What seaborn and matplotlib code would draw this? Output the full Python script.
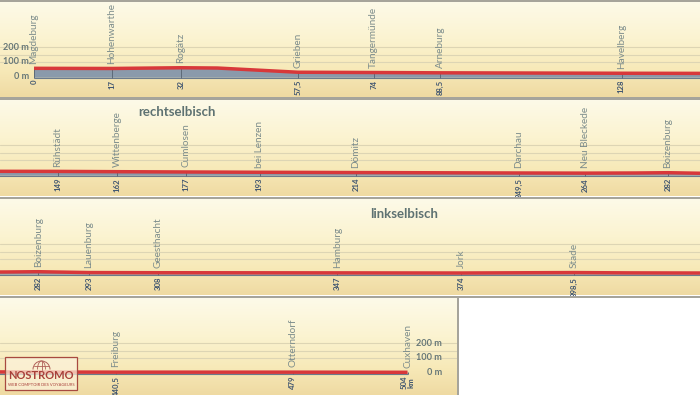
import numpy as np
import pandas as pd
import matplotlib
matplotlib.use("Agg")
import matplotlib.pyplot as plt
import matplotlib.transforms as mtransforms
from matplotlib.patches import Rectangle, Arc
import seaborn as sns

# ---------------- data ----------------
profile_km = [0, 17, 32, 40, 57.5, 74, 88.5, 128, 149, 162, 177, 193, 214,
              249.5, 264, 275, 282, 293, 308, 347, 374, 390, 398.5, 410,
              440.5, 479, 504]
profile_elev = [55, 54, 59, 57, 28, 26, 24, 21, 20, 18, 16, 14, 12,
                9, 8, 9, 11, 5, 4, 3, 2, 4, 5, 3,
                1, 1, 0]

p1_towns = ["Magdeburg", "Hohenwarthe", "Rogätz", "Grieben", "Tangermünde", "Arneburg", "Havelberg"]
p1_km = [0, 17, 32, 57.5, 74, 88.5, 128]
p2_towns = ["Rühstädt", "Wittenberge", "Cumlosen", "bei Lenzen", "Dömitz", "Darchau", "Neu Bleckede", "Boizenburg"]
p2_km = [149, 162, 177, 193, 214, 249.5, 264, 282]
p3_towns = ["Boizenburg", "Lauenburg", "Geesthacht", "Hamburg", "Jork", "Stade"]
p3_km = [282, 293, 308, 347, 374, 398.5]
p4_towns = ["Freiburg", "Otterndorf", "Cuxhaven"]
p4_km = [440.5, 479, 504]

panel_xlim = [(-7.41, 145.1), (136.43, 289.0), (273.67, 425.9), (415.2, 515.0)]
section_titles = ["", "rechtselbisch", "linkselbisch", ""]
ytick_vals = [200, 100, 0]
ytick_labels = ["200 m", "100 m", "0 m"]
grid_vals = [100, 150, 200]

df = pd.DataFrame({"km": profile_km, "elev": profile_elev})

# ---------------- style ----------------
sns.set_theme(style="white")
plt.rcParams["font.family"] = ["Lato", "DejaVu Sans"]

W, H = 700, 395
fig = plt.figure(figsize=(7, 3.95), dpi=100)
fig.patch.set_facecolor("white")

panels_px = [(2, 97.5, 700), (100, 196.5, 700), (199, 295.5, 700), (298, 395, 458)]
zero_from_top = 74.3
px_per_m = 0.145

stops = np.array([
    [0.00, 253, 250, 233],
    [0.40, 251, 243, 208],
    [0.72, 247, 233, 184],
    [1.00, 239, 218, 162],
])
tt = np.linspace(0, 1, 200)
grad = np.stack([np.interp(tt, stops[:, 0], stops[:, i]) for i in (1, 2, 3)], axis=1) / 255
grad_img = grad[:, None, :]

red = "#d8383a"
fill_col = "#8a9aab"
town_col = "#7d8d8c"
km_col = "#3f5570"
ylab_col = "#687878"
sep_col = "#a6a49b"

towns_all = [(p1_towns, p1_km), (p2_towns, p2_km), (p3_towns, p3_km), (p4_towns, p4_km)]
km_min, km_max = min(profile_km), max(profile_km)

axes = []
for i, (top, bot, wpx) in enumerate(panels_px):
    h = bot - top
    ax = fig.add_axes([0, 1 - bot / H, wpx / W, h / H])
    axes.append(ax)
    ax.imshow(grad_img, extent=[0, 1, 0, 1], transform=ax.transAxes,
              aspect="auto", zorder=0, interpolation="bilinear")
    ymax = zero_from_top / px_per_m
    ymin = -(h - zero_from_top) / px_per_m

    for g in grid_vals:
        ax.axhline(g, color="#ddd5b4", lw=0.8, zorder=1)

    ax.fill_between(df["km"], df["elev"], -10, color=fill_col, lw=0, zorder=2)
    ax.hlines(-10, km_min, km_max, color="#6b7b8c", lw=0.8, zorder=2)

    names, kms = towns_all[i]
    elev_at = np.interp(kms, profile_km, profile_elev)
    ax.vlines(kms, -10, elev_at, color="#5d6a78", lw=0.7, zorder=3)

    sns.lineplot(data=df, x="km", y="elev", ax=ax, color=red, lw=2.5,
                 zorder=4, legend=False, solid_capstyle="butt")

    for name, k, e in zip(names, kms, elev_at):
        ax.annotate(name, xy=(k, e), xytext=(0, 3.4), textcoords="offset points",
                    rotation=90, ha="center", va="bottom", fontsize=7.2,
                    color=town_col, zorder=5)
        lab = f"{k:g}".replace(".", ",")
        if k == km_max:
            lab = lab + "\nkm"
        ax.text(k, -25, lab, rotation=90, ha="center", va="top", fontsize=5.6,
                fontweight="bold", color=km_col, zorder=5, multialignment="center",
                linespacing=0.9)

    ax.set_xlim(*panel_xlim[i])
    ax.set_ylim(ymin, ymax)
    ax.set_xlabel("")
    ax.set_ylabel("")
    ax.set_xticks([])
    ax.set_yticks([])
    for s in ax.spines.values():
        s.set_visible(False)

    if section_titles[i]:
        cx = 177 if i == 1 else 404
        cy = 112 if i == 1 else 214
        ax.text(cx / wpx, 1 - (cy - top) / h, section_titles[i], transform=ax.transAxes,
                ha="center", va="center", fontsize=9.5, fontweight="bold",
                color="#5e7272", zorder=6)

trans1 = mtransforms.blended_transform_factory(axes[0].transAxes, axes[0].transData)
for v, lab in zip(ytick_vals, ytick_labels):
    axes[0].text(29 / 700, v, lab, transform=trans1, ha="right", va="center",
                 fontsize=6.6, fontweight="bold", color=ylab_col, zorder=6)
trans4 = mtransforms.blended_transform_factory(axes[3].transAxes, axes[3].transData)
for v, lab in zip(ytick_vals, ytick_labels):
    axes[3].text(442 / 458, v, lab, transform=trans4, ha="right", va="center",
                 fontsize=6.6, fontweight="bold", color=ylab_col, zorder=6)

for (y0, y1, x1) in [(0, 2, 700), (97.5, 100, 700), (196.5, 199, 700), (295.5, 298, 700)]:
    fig.patches.append(Rectangle((0, 1 - y1 / H), x1 / W, (y1 - y0) / H,
                                 transform=fig.transFigure, color=sep_col, lw=0, zorder=10))
fig.patches.append(Rectangle((457 / W, 0), 2 / W, 97 / H, transform=fig.transFigure,
                             color=sep_col, lw=0, zorder=10))

# logo
ax4 = axes[3]
tr = ax4.transAxes
def ap(x, y):
    return (x / 458, 1 - (y - 298) / 97)
bx0, by0 = ap(5, 390)
bx1, by1 = ap(77, 357)
ax4.add_patch(Rectangle((bx0, by0), bx1 - bx0, by1 - by0, transform=tr,
                        facecolor=(0.99, 0.95, 0.86, 0.72), edgecolor="#a84a40",
                        lw=0.9, zorder=7))
pix = mtransforms.Affine2D().scale(1 / W, 1 / H) + fig.transFigure
globe_c = (41.5, 395 - 369.5)
ax4.add_patch(Arc(globe_c, 17, 17, theta1=0, theta2=180, transform=pix,
                  color="#b06058", lw=0.7, zorder=8))
ax4.add_patch(Arc(globe_c, 8, 17, theta1=0, theta2=180, transform=pix,
                  color="#b06058", lw=0.6, zorder=8))
ax4.plot([globe_c[0], globe_c[0]], [globe_c[1], globe_c[1] + 8.5], transform=pix,
         color="#b06058", lw=0.6, zorder=8)
ax4.plot([globe_c[0] - 7.5, globe_c[0] + 7.5], [globe_c[1] + 4, globe_c[1] + 4], transform=pix,
         color="#b06058", lw=0.6, zorder=8)
ax4.text(*ap(41, 375.5), "NOSTROMO", transform=tr, ha="center", va="center",
         fontsize=8.0, fontweight="bold", color="#a8403a", zorder=9)
ax4.text(*ap(41, 384.5), "WEB COMPTOIR DES VOYAGEURS", transform=tr, ha="center",
         va="center", fontsize=3.0, color="#a8403a", zorder=9)

fig.savefig("out.png", dpi=100, facecolor="white")
